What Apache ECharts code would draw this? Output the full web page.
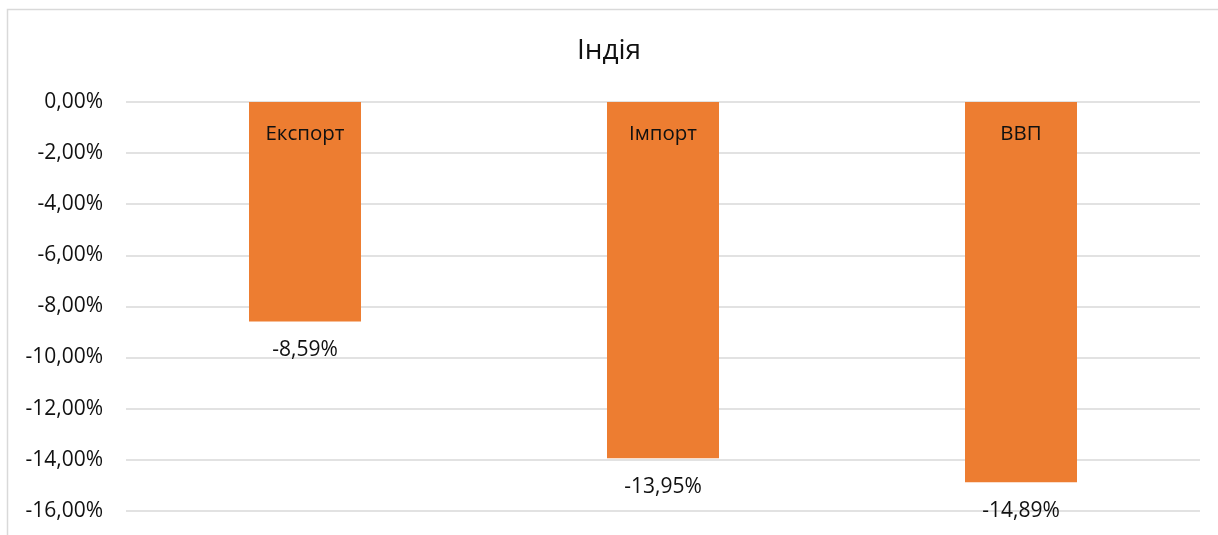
<!DOCTYPE html>
<html>
<head>
<meta charset="utf-8">
<script src="https://cdn.jsdelivr.net/npm/echarts@6/dist/echarts.min.js"></script>
<style>
  html, body { margin: 0; padding: 0; background: #ffffff; }
  #chart { width: 1218px; height: 535px; }
</style>
</head>
<body>
<div id="chart"></div>
<script>
// Зміна показників Індії, %
const categories = ['Експорт', 'Імпорт', 'ВВП'];
const values = [-8.59, -13.95, -14.89];
const yTicks = { min: -16, max: 0, interval: 2 };

const FONT = '"Open Sans", "Noto Sans", sans-serif';
const TEXT = '#111111';
const fmtPct = v => (v === 0 ? 0 : v).toFixed(2).replace('.', ',') + '%';

const chart = echarts.init(document.getElementById('chart'), null, { renderer: 'canvas' });
chart.setOption({
  backgroundColor: '#ffffff',
  animation: false,
  graphic: [{
    type: 'rect',
    shape: { x: 7.5, y: 9.5, width: 1300, height: 700 },
    style: { fill: 'none', stroke: '#d9d9d9', lineWidth: 1.5 },
    silent: true,
    z: -1
  }],
  title: {
    text: 'Індія',
    left: 'center',
    top: 32,
    textStyle: { fontFamily: FONT, fontSize: 28, fontWeight: 'normal', color: TEXT }
  },
  grid: { left: 126, right: 18, top: 102, bottom: 24.3, containLabel: false },
  xAxis: {
    type: 'category',
    data: categories,
    position: 'top',
    axisLine: { show: false },
    axisTick: { show: false },
    axisLabel: {
      inside: true,
      margin: 22,
      fontFamily: FONT,
      fontSize: 20.5,
      color: TEXT
    },
    z: 10
  },
  yAxis: {
    type: 'value',
    min: yTicks.min,
    max: yTicks.max,
    interval: yTicks.interval,
    axisLine: { show: false },
    axisTick: { show: false },
    splitLine: { lineStyle: { color: '#d9d9d9', width: 1.5 } },
    axisLabel: {
      margin: 23,
      fontFamily: FONT,
      fontSize: 21,
      color: TEXT,
      formatter: fmtPct
    }
  },
  series: [{
    type: 'bar',
    data: values,
    barWidth: 112,
    itemStyle: { color: '#ED7D31' },
    label: {
      show: true,
      position: 'bottom',
      distance: 18,
      fontFamily: FONT,
      fontSize: 21,
      color: TEXT,
      formatter: p => fmtPct(p.value)
    }
  }]
});
</script>
</body>
</html>
